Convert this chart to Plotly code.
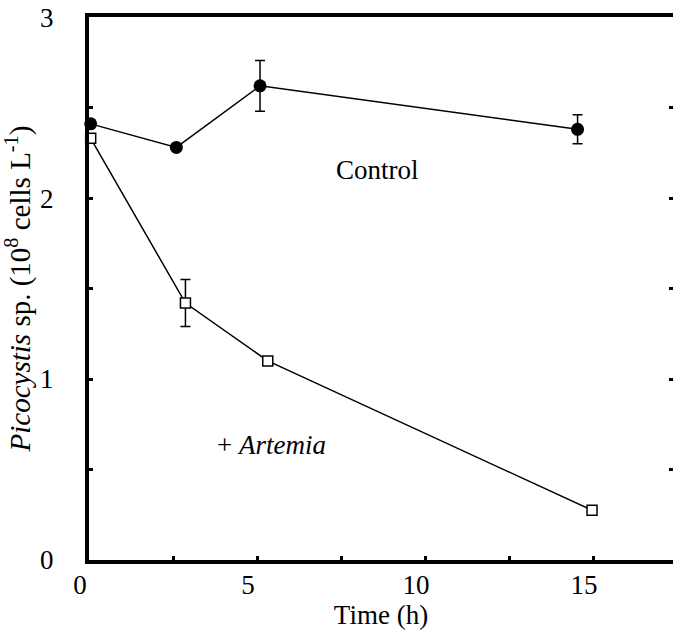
import plotly.graph_objects as go

# Data
control_t = [0.05, 2.60, 5.09, 14.54]
control_v = [2.41, 2.28, 2.62, 2.38]
control_err = [0.0, 0.0, 0.14, 0.08]

artemia_t = [0.05, 2.87, 5.32, 14.97]
artemia_v = [2.33, 1.42, 1.10, 0.275]
artemia_err = [0.0, 0.13, 0.0, 0.0]

x_range = [0, 17.38]
y_range = [0, 3.0005]

FONT = "Liberation Serif"

fig = go.Figure()

fig.add_trace(go.Scatter(
    x=control_t, y=control_v, mode="lines+markers",
    line=dict(color="black", width=1.5),
    marker=dict(symbol="circle", size=13, color="black"),
    error_y=dict(type="data", array=control_err, visible=True,
                 color="black", thickness=1.5, width=5),
    cliponaxis=False, showlegend=False,
))
fig.add_trace(go.Scatter(
    x=artemia_t, y=artemia_v, mode="lines+markers",
    line=dict(color="black", width=1.5),
    marker=dict(symbol="square", size=10, color="white",
                line=dict(color="black", width=1.5)),
    error_y=dict(type="data", array=artemia_err, visible=True,
                 color="black", thickness=1.5, width=5),
    cliponaxis=False, showlegend=False,
))
fig.add_trace(go.Scatter(x=[None], y=[None], yaxis="y2", showlegend=False,
                         hoverinfo="skip"))

fig.add_annotation(x=8.6, y=2.155, text="Control", showarrow=False,
                   font=dict(family=FONT, size=27, color="black"))
fig.add_annotation(x=5.42, y=0.635, text="+ <i>Artemia</i>", showarrow=False,
                   font=dict(family=FONT, size=27, color="black"))

fig.update_layout(
    width=673, height=632,
    margin=dict(l=89, r=0, t=17, b=72),
    paper_bgcolor="white", plot_bgcolor="white",
    font=dict(family=FONT, size=27, color="black"),
    xaxis=dict(
        range=x_range, tickvals=[0, 5, 10, 15], ticks="inside",
        ticklen=4, tickwidth=3, tickcolor="black",
        minor=dict(dtick=2.5, ticks="inside", ticklen=4, tickwidth=3,
                   tickcolor="black"),
        showline=True, linewidth=4, linecolor="black", mirror=True,
        showgrid=False, zeroline=False,
        ticklabelshift=-9, ticklabelstandoff=-2,
        tickfont=dict(family=FONT, size=27),
        title=dict(text="Time (h)", font=dict(family=FONT, size=27),
                   standoff=0),
    ),
    yaxis=dict(
        range=y_range, tickvals=[0, 1, 2, 3], ticks="inside",
        ticklen=4, tickwidth=3, tickcolor="black",
        minor=dict(dtick=0.5, ticks="inside", ticklen=4, tickwidth=3,
                   tickcolor="black"),
        showline=True, linewidth=4, linecolor="black", mirror=False,
        showgrid=False, zeroline=False,
        ticklabelstandoff=26,
        tickfont=dict(family=FONT, size=27),
        title=dict(text="<i>Picocystis</i> sp. (10<sup>8</sup> cells L<sup>-1</sup>)",
                   font=dict(family=FONT, size=29), standoff=4),
    ),
    yaxis2=dict(
        range=y_range, overlaying="y", side="right", anchor="x",
        tickvals=[0.5, 1, 1.5, 2, 2.5], ticks="inside", ticklen=4,
        tickwidth=3, tickcolor="black", showticklabels=False,
        showline=False, showgrid=False, zeroline=False,
    ),
)

fig.write_html("out.html")
